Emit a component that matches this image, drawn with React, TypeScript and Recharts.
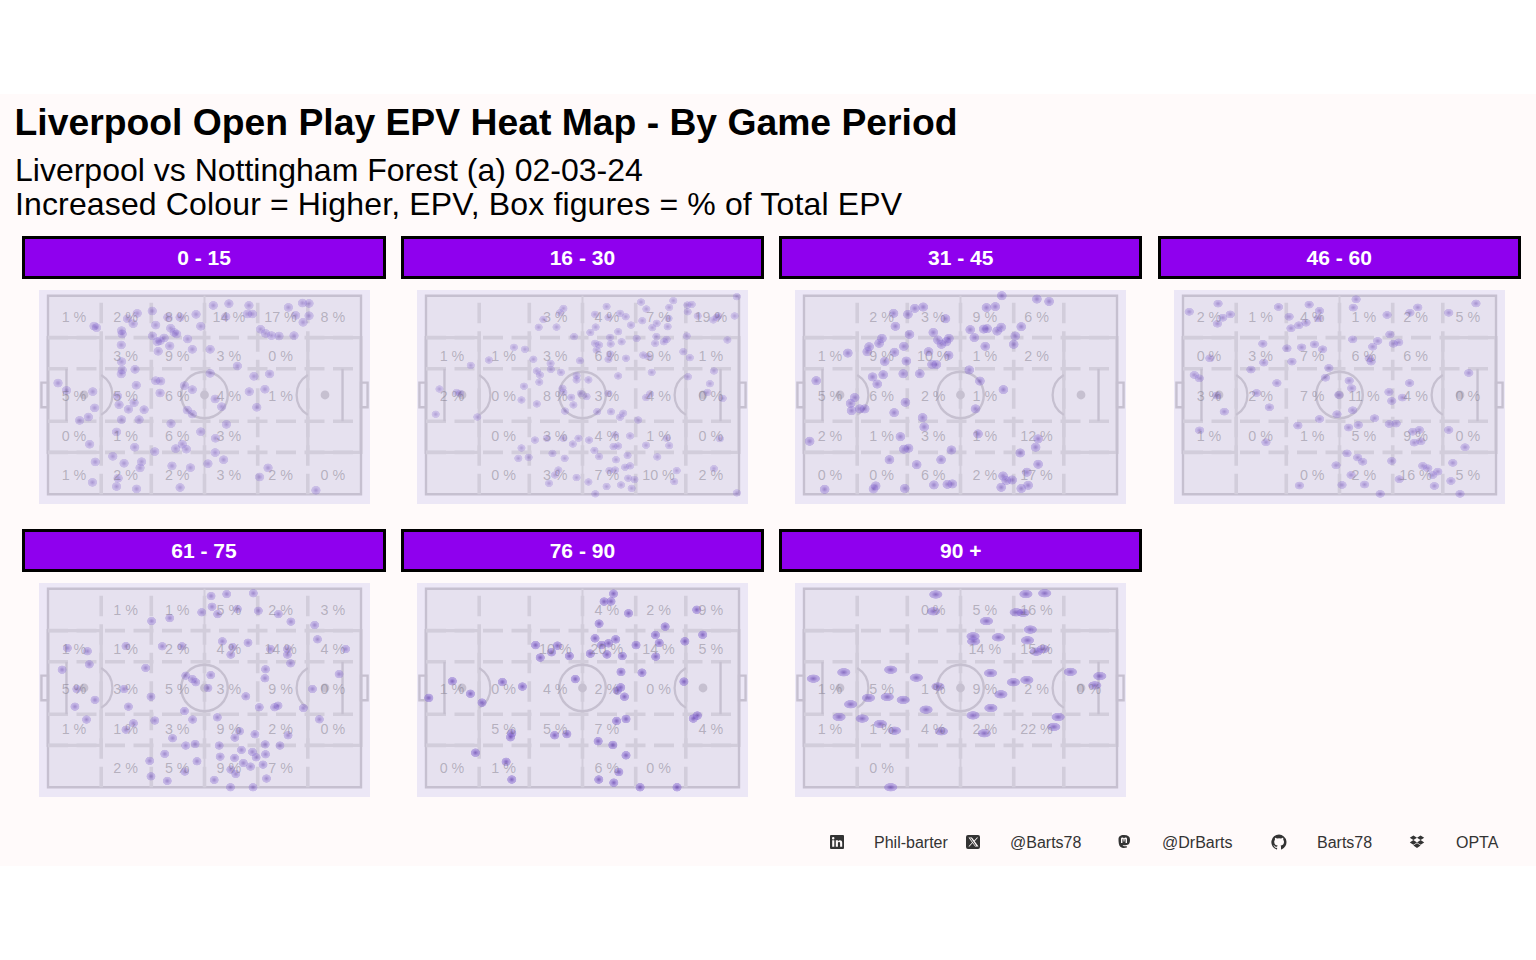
import React from 'react';
import {
  ReferenceArea,
  ReferenceDot,
  ReferenceLine,
  Scatter,
  ScatterChart,
  XAxis,
  YAxis
} from 'recharts';

type Pt = [number, number];

const periods = ['0 - 15', '16 - 30', '31 - 45', '46 - 60', '61 - 75', '76 - 90', '90 +'];

const labelX = [8.3, 24.8, 41.3, 57.8, 74.3, 91];
const labelY = [89.3, 69.6, 49.8, 29.4, 9.7];

// box figures, top row first; null = box left empty
const pct0to15 = [
  [1, 2, 8, 14, 17, 8],
  [null, 3, 9, 3, 0, null],
  [5, 5, 6, 4, 1, null],
  [0, 1, 6, 3, null, null],
  [1, 2, 2, 3, 2, 0]
];
const pct16to30 = [
  [null, null, 3, 4, 7, 19],
  [1, 1, 3, 6, 9, 1],
  [2, 0, 8, 3, 4, 0],
  [null, 0, 3, 4, 1, 0],
  [null, 0, 3, 7, 10, 2]
];
const pct31to45 = [
  [null, 2, 3, 9, 6, null],
  [1, 9, 10, 1, 2, null],
  [5, 6, 2, 1, null, null],
  [2, 1, 3, 1, 12, null],
  [0, 0, 6, 2, 17, null]
];
const pct46to60 = [
  [2, 1, 4, 1, 2, 5],
  [0, 3, 7, 6, 6, null],
  [3, 2, 7, 11, 4, 0],
  [1, 0, 1, 5, 9, 0],
  [null, null, 0, 2, 16, 5]
];
const pct61to75 = [
  [null, 1, 1, 5, 2, 3],
  [1, 1, 2, 4, 14, 4],
  [5, 3, 5, 3, 9, 0],
  [1, 1, 3, 9, 2, 0],
  [null, 2, 5, 9, 7, null]
];
const pct76to90 = [
  [null, null, null, 4, 2, 9],
  [null, null, 10, 20, 14, 5],
  [1, 0, 4, 2, 0, null],
  [null, 5, 5, 7, null, 4],
  [0, 1, null, 6, 0, null]
];
const pct90plus = [
  [null, null, 0, 5, 16, null],
  [null, null, null, 14, 15, null],
  [1, 5, 1, 9, 2, 0],
  [1, 1, 4, 2, 22, null],
  [null, 0, null, null, null, null]
];

const touches0to15: Pt[] = [
  [52.8, 95.1], [57.8, 96], [64.2, 95.1], [76.8, 94.1], [81.3, 96.3], [83.4, 96.1], [83.4, 89.9], [81.5, 86.6],
  [79.1, 90.1], [56.8, 89.4], [63.7, 90.8], [65.3, 90.8], [33.3, 92.3], [28.5, 91.1], [25.4, 88.4], [27.2, 85.9],
  [38.3, 89.1], [42.2, 89.1], [47.3, 90.6], [48.8, 84.6], [34.4, 85.2], [14.7, 84.7], [15.5, 83.9], [23.5, 82.4],
  [23.7, 80.7], [39.2, 83.6], [40.3, 81.5], [41.1, 80.7], [44.6, 78.2], [33.4, 79.7], [34.9, 76.8], [35.8, 77.3],
  [37.1, 78.7], [38.9, 74.7], [46.1, 73], [35.2, 72], [51.8, 73], [23.4, 75.2], [67.9, 83.1], [69.5, 81],
  [71.4, 79.9], [73.8, 79.7], [78.6, 79.9], [60.5, 64.6], [65.8, 59.4], [70.8, 60.6], [23.5, 66.8], [23.7, 62.6],
  [23.4, 60.6], [27.8, 62.9], [3.2, 56], [5.9, 52.3], [14.3, 51.7], [28.2, 54.9], [34.4, 57.2], [36, 57],
  [35.8, 51], [43.6, 54.7], [46.1, 52.7], [51.8, 60.9], [64.3, 51.7], [69.3, 52.9], [53.4, 48], [55.5, 44.1],
  [66.7, 43.8], [22.2, 49.5], [27.5, 46.1], [22.7, 45.1], [25.7, 42.8], [30.7, 42.6], [14.9, 43.5], [12.9, 38.9],
  [10.1, 37.2], [23.5, 37.6], [29.1, 37.6], [44.5, 42.4], [46.1, 40.4], [39.3, 35.6], [57, 35.2], [48.8, 31.5],
  [53.5, 28.2], [21.9, 31.4], [13.3, 25.2], [27.7, 23.7], [34.1, 21.5], [40.8, 23], [42.9, 25.2], [44.2, 22.7],
  [53.4, 21], [20.7, 19.1], [15.1, 16.3], [24.3, 15.6], [29.9, 16.4], [29.4, 13.3], [39.6, 14.3], [45.5, 13.4],
  [51.1, 15.4], [56.1, 17.4], [70.3, 13.3], [67.6, 8.7], [14.2, 6], [22.4, 8.1], [21.9, 3.9], [28.3, 2.7],
  [42.2, 3.4], [85.6, 2]
];

const touches16to30: Pt[] = [
  [99.3, 99.5], [99.3, 0.7], [79, 97.5], [77.7, 94.1], [68.7, 96.8], [70.4, 93.3], [57.7, 94.5], [43.9, 93.6],
  [42.8, 91.4], [37.5, 88.1], [54, 90.6], [58.3, 89.1], [62, 91.1], [63.8, 89.4], [84.9, 95.6], [83.5, 95.3],
  [83.6, 91.9], [86.8, 89.8], [92.9, 89.1], [91.8, 87.8], [93.4, 89.8], [98.6, 89.8], [77.5, 88.6], [77.2, 84.4],
  [73.7, 86.1], [72.3, 83.9], [69.1, 87.4], [65.5, 85.2], [36, 84.1], [41.7, 84.2], [54.2, 84.2], [52.5, 81.5],
  [47.3, 79.4], [61.4, 81.9], [58.8, 79], [62.5, 76.8], [67.3, 78.5], [73.6, 79.4], [76.9, 78], [76, 76.8],
  [73.2, 76], [83.3, 79.7], [96.3, 77.7], [59, 75.7], [54, 76], [54.5, 72.6], [55.3, 75.2], [58.8, 70.6],
  [58.3, 68], [63.9, 68.5], [69.4, 70.1], [71, 69.3], [82.2, 71.8], [84.3, 68.8], [28.1, 74], [31.6, 73],
  [20.1, 67.6], [14.3, 64.9], [34.3, 68], [39.8, 65.9], [39.9, 62.9], [49.2, 67.3], [35.4, 62.1], [36.4, 60.1],
  [43.1, 61.4], [36.2, 56.5], [31.3, 54.4], [30.5, 47.5], [35.4, 45.5], [72.1, 61.4], [61.4, 59.6], [83.7, 59.2],
  [92, 62.1], [90.7, 55.7], [48.1, 59.7], [48.1, 57.6], [51.9, 57.6], [43.6, 53.4], [43.9, 51.3], [46.4, 48.8],
  [47.1, 45], [49.5, 50.8], [51.3, 49.2], [58.3, 50.8], [71.6, 50.5], [70.3, 48.7], [9.8, 51.3], [10.9, 50.8],
  [4.3, 53], [3.1, 40.3], [16.4, 38.9], [44.4, 41.9], [54.7, 41.6], [59.1, 41.6], [63, 40.8], [62, 38.8],
  [67.8, 37.4], [89.9, 51.3], [94.8, 48.3], [34.8, 27.3], [38.6, 28.2], [43.9, 28.2], [46.9, 25.3], [48.7, 28.2],
  [52.1, 27.3], [60.4, 29.9], [65.2, 29.4], [76.9, 28.2], [93.9, 28], [70.3, 24.7], [77.7, 24.5], [59.9, 24],
  [61.4, 24.3], [30.5, 23.3], [29.5, 18.1], [32.8, 18.6], [40.4, 20.6], [44.3, 18.1], [53.8, 22.1], [55.3, 19],
  [64.4, 19.6], [60.7, 17.4], [73.9, 18.8], [65.2, 14.3], [63.6, 13.6], [60.4, 12.2], [58.6, 11.9], [42.3, 12.2],
  [41.2, 9.7], [80.1, 11.9], [92, 12.9], [48.1, 8.4], [39.3, 5.5], [51.9, 6.2], [57.7, 3.9], [62.3, 4.7],
  [64.6, 8.1], [66.6, 7.4], [65.7, 3], [79.3, 6.4], [54.1, 0.2]
];

const touches31to45: Pt[] = [
  [63.2, 100], [74.4, 98.3], [78.3, 97.1], [58.3, 94], [61.1, 94.5], [35.4, 93.6], [33.2, 90.6], [38.1, 94.3],
  [28.6, 91.1], [29.2, 84.6], [45.2, 88.4], [57.4, 83.2], [58.5, 83.4], [63, 84.1], [61.7, 82.2], [69.4, 84.4],
  [53.1, 82.9], [54.4, 78.9], [33.7, 80.5], [24.9, 78.5], [24, 76], [20.8, 74.3], [20.2, 71.8], [41.3, 81.5],
  [42.8, 77.7], [43.9, 75.5], [45.5, 76.8], [46.3, 78.5], [67.5, 79.7], [67, 75.5], [57.9, 74.5], [31.9, 74.5],
  [14, 71.1], [28.9, 71.5], [25.8, 66.9], [32.7, 67.1], [39.8, 71.8], [46.2, 70], [40.9, 65.4], [42.3, 65.3],
  [52.8, 62.6], [25.3, 60.2], [31.7, 60.7], [37, 60.7], [21.9, 59.1], [23.4, 55.5], [56.2, 57], [3.9, 57.2],
  [63.7, 52.7], [16.2, 48.7], [14.9, 45.8], [15.2, 42.1], [17.8, 43], [19.4, 43], [32.4, 46.3], [28.8, 41.1],
  [54.8, 43], [37.9, 38.6], [38.4, 33.9], [1.8, 26.7], [30.8, 29], [55.6, 30.4], [74.8, 27.9], [74, 23.7],
  [31.9, 22.7], [33.4, 23.2], [47.1, 22.3], [69.1, 20.8], [27.3, 17.4], [43.8, 17.4], [36, 14.9], [74.8, 15.1],
  [63.6, 9.2], [64.6, 6.9], [63, 3.5], [66.5, 7.2], [69.4, 2.9], [71.6, 4.5], [71.2, 11.1], [41.5, 4.7],
  [45.8, 5], [47.4, 5.2], [32.2, 2.9], [22.9, 4.2], [22.2, 2.7], [6.6, 2.5]
];

const touches46to60: Pt[] = [
  [11.2, 96], [2, 91.9], [15.1, 90.6], [12.7, 88.9], [11, 85.9], [30.5, 94.3], [40.3, 95.5], [55.3, 98.2],
  [54.4, 94], [43.6, 92.4], [43.2, 88.6], [33.9, 89.4], [34.5, 83.6], [37, 85.1], [39.3, 86.4], [65.2, 90.3],
  [75, 94.1], [72.5, 91.4], [84.9, 91.4], [93.6, 96.1], [66.1, 80.5], [54.2, 78], [62.2, 77.2], [60.6, 74.3],
  [67.2, 75.8], [68.9, 76.5], [25.5, 75.8], [33.2, 73.5], [37.9, 74], [42, 75.5], [44.6, 73], [8.6, 68.5],
  [25.8, 66.3], [34.8, 66.8], [21.7, 62.8], [59.5, 68.5], [60.1, 66.8], [46.6, 63.6], [45.5, 58.7], [3.6, 60.1],
  [5.2, 58.4], [91.3, 61.1], [72.4, 56], [30, 56], [53.1, 57.2], [53.9, 53.4], [23.5, 51], [10.8, 49.7],
  [49.8, 50], [65.8, 51.5], [70.1, 48.7], [66.7, 47], [27.6, 43.8], [13.2, 41.6], [54.2, 42.3], [49.2, 40.3],
  [43.6, 37.9], [61.2, 38.3], [65.9, 35.4], [68.1, 35.6], [56, 34.9], [52.9, 33.6], [36.7, 34.6], [5.3, 32.2],
  [84.9, 32.4], [73.4, 31.5], [75.5, 32.4], [73.9, 26], [76, 26.7], [26.5, 26.2], [90.1, 23.7], [52.4, 20.6],
  [55.8, 18.5], [57.4, 16.4], [66.7, 16.8], [48.9, 14.6], [76.6, 14.3], [78.2, 13.1], [81.4, 11.4], [79.8, 9.7],
  [86.2, 15.8], [85.6, 6.7], [69.1, 7.6], [53.7, 9.7], [80.3, 4.2], [50.8, 4.7], [58, 4.9], [37.2, 4.4],
  [63, 0.2], [88.5, 0.2]
];

const touches61to75: Pt[] = [
  [52.1, 96.3], [57.1, 97.3], [65.6, 97.7], [52.4, 90.9], [54.2, 87.2], [49.1, 88.1], [60.5, 89.8], [67.2, 88.9],
  [73.6, 87.2], [77.6, 83.4], [85.2, 81.7], [38.9, 85.2], [33.1, 83.7], [86.1, 74.5], [6.2, 70.1], [12.6, 68.5],
  [13.2, 61.9], [4.5, 59.2], [24.9, 71.1], [36.5, 71], [42.8, 71], [55.7, 73.5], [59, 70.6], [58.4, 66.8],
  [63.9, 72.8], [71.1, 69.6], [76.5, 69.6], [76.5, 66.8], [77.5, 62.4], [95.1, 69.6], [31.2, 60.1], [69.5, 59.4],
  [69.3, 54.9], [93, 57], [52, 56.5], [44, 56.2], [46.1, 54.5], [47.2, 52.9], [51.1, 50], [9.2, 49.5],
  [24.3, 49.5], [84.5, 49.5], [63.2, 45.8], [15, 44], [32.9, 45.6], [8.6, 40.6], [25.7, 40.6], [67.5, 40.3],
  [72.4, 40.3], [73.5, 41.1], [81.6, 39.9], [43.6, 38.4], [12.3, 34.1], [46.2, 34.1], [54.1, 35.2], [86.7, 34.2],
  [34.1, 33.6], [27.3, 32.2], [24.9, 29], [61.2, 28.2], [66.1, 26.7], [59.7, 25], [76.7, 26.2], [39.8, 24.7],
  [44, 21], [47, 21.8], [54.7, 21], [69.4, 21.6], [74.1, 21], [61.8, 18.8], [65.3, 17.8], [66.5, 15.1],
  [69.5, 16.6], [37.3, 16.8], [55, 15.4], [59.6, 14.8], [62.4, 12.2], [64.7, 10.4], [68.7, 11.4], [32.5, 13.3],
  [47.6, 13.1], [58.4, 8.9], [60, 6.7], [43.7, 7.9], [32.9, 5.5], [38.1, 3.2], [53.1, 3.7], [69.8, 4.4],
  [58.3, 0], [65.5, 0]
];

const touches76to90: Pt[] = [
  [59.9, 97.5], [59.1, 93.6], [56.9, 93.5], [64.7, 87.6], [55.3, 82.4], [86.5, 89.4], [76.4, 80.9], [73.3, 76.7],
  [88.4, 76.8], [82.7, 73.5], [74.5, 72.7], [54, 75], [60.6, 74.5], [58.3, 72.5], [56.1, 71.6], [67.1, 71.6],
  [35, 71.6], [42, 71.3], [40.1, 68], [36.5, 65.3], [45.8, 66.1], [52.5, 67.3], [57.8, 66.9], [62.7, 66.1],
  [73.4, 65.8], [62.3, 58.1], [69, 57.7], [47.7, 54.5], [82.4, 53.2], [8.4, 53.4], [24.4, 53], [30.8, 50.7],
  [14.2, 47.1], [0.9, 45], [17.9, 42.6], [62.2, 50.3], [61.1, 48.7], [63.4, 45.6], [86.7, 36.1], [85.4, 34.6],
  [63.9, 34.4], [60.9, 33.4], [27.4, 27.2], [27, 25.2], [41.1, 26.2], [45, 26.8], [55, 23.2], [59.7, 21.3],
  [63.9, 16.1], [15.8, 17.4], [25.6, 12.8], [61.6, 7.7], [27.4, 3.9], [55.2, 3.9], [60, 2.3], [68.4, 0],
  [80.2, 0]
];

const touches90plus: Pt[] = [
  [42.1, 97.1], [70.9, 97.3], [76.9, 97.7], [41.4, 88.6], [67.8, 88.1], [70, 87.9], [58.3, 83.7], [72.3, 79.4],
  [54, 76], [54.2, 73.5], [62.1, 75.5], [71.4, 74], [74.2, 68.3], [76.4, 69.6], [27.7, 59.2], [12.7, 57.9],
  [59.6, 57.5], [85.1, 58.1], [94.5, 56], [3, 54.7], [35.9, 55.2], [71.2, 54], [66.9, 52.9], [42.8, 50.7],
  [92.9, 51.3], [62.9, 46.8], [20.6, 45], [26.6, 45.5], [31.7, 44], [14.9, 41.8], [39, 39.1], [59.7, 39.9],
  [54, 36.2], [11.2, 35.4], [18.6, 34.6], [81.2, 35.4], [24.4, 31.9], [28.9, 28.5], [43.9, 28.2], [79.8, 30.4],
  [57.6, 27.2], [27.7, 0]
];

const allTouches = [
  touches0to15, touches16to30, touches31to45, touches46to60, touches61to75, touches76to90, touches90plus
];
const allPct = [pct0to15, pct16to30, pct31to45, pct46to60, pct61to75, pct76to90, pct90plus];

const captionItems = ['Phil-barter', '@Barts78', '@DrBarts', 'Barts78', 'OPTA'];

// look of the blobs per panel (rx, ry in px, strength)
const blobStyles = [
  { rx: 5, ry: 4.7, k: 0.85 },
  { rx: 4.4, ry: 4, k: 0.75 },
  { rx: 5.2, ry: 4.9, k: 1.05 },
  { rx: 5, ry: 4.2, k: 0.9 },
  { rx: 4.8, ry: 4.5, k: 1 },
  { rx: 4.9, ry: 4.6, k: 1.4 },
  { rx: 7, ry: 4.5, k: 1.3 }
];

const LINE = '#C6C0D0';
const DASH = '#D2CDDB';
const X_DOMAIN: [number, number] = [-2.875, 102.875];
const Y_DOMAIN: [number, number] = [-4.9, 102.87];
const sans = '"Liberation Sans", Arial, sans-serif';

const PanelChart = ({ index }: { index: number }) => {
  const style = blobStyles[index];
  const touches = allTouches[index].map(([x, y]) => ({ x, y }));
  const labels: { x: number; y: number; v: number }[] = [];
  allPct[index].forEach((row, r) =>
    row.forEach((v, c) => {
      if (v !== null) labels.push({ x: labelX[c], y: labelY[r], v });
    })
  );
  const dashedV = [17, 33, 50, 67, 83];
  const dashedH = [21.1, 36.8, 63.2, 78.9];
  const arc = (side: number) => (p: any) => {
    const dx = 12.2 * side;
    return (
      <path
        d={`M${p.cx + dx},${p.cy - 19.9} A23.3,23.3 0 0 ${side > 0 ? 1 : 0} ${p.cx + dx},${p.cy + 19.9}`}
        fill="none"
        stroke={LINE}
        strokeWidth={2.3}
      />
    );
  };
  return (
    <ScatterChart width={331} height={214} margin={{ top: 0, right: 0, bottom: 0, left: 0 }}>
      <XAxis type="number" dataKey="x" domain={X_DOMAIN} hide />
      <YAxis type="number" dataKey="y" domain={Y_DOMAIN} hide />
      <ReferenceArea x1={0} x2={100} y1={0} y2={100} fill="#E6E1EF" fillOpacity={1} stroke="none" />
      <ReferenceArea x1={0} x2={17} y1={21.1} y2={78.9} fill="none" stroke={DASH} strokeWidth={3.2} />
      <ReferenceArea x1={83} x2={100} y1={21.1} y2={78.9} fill="none" stroke={DASH} strokeWidth={3.2} />
      <ReferenceLine segment={[{ x: 50, y: 0 }, { x: 50, y: 100 }]} stroke={DASH} strokeWidth={2} />
      {dashedV.map((x) => (
        <ReferenceLine
          key={x}
          segment={[{ x, y: 0 }, { x, y: 100 }]}
          stroke={DASH}
          strokeWidth={3.6}
          strokeDasharray="20.5 8"
        />
      ))}
      {dashedH.map((y) => (
        <ReferenceLine
          key={y}
          segment={[{ x: 0, y }, { x: 100, y }]}
          stroke={DASH}
          strokeWidth={3.6}
          strokeDasharray="20 8.5"
        />
      ))}
      <ReferenceArea x1={0} x2={100} y1={0} y2={100} fill="none" stroke={LINE} strokeWidth={2.4} />
      <ReferenceLine segment={[{ x: 5.9, y: 36.8 }, { x: 5.9, y: 63.2 }]} stroke={LINE} strokeWidth={2.4} />
      <ReferenceLine segment={[{ x: 94.1, y: 36.8 }, { x: 94.1, y: 63.2 }]} stroke={LINE} strokeWidth={2.4} />
      <ReferenceArea x1={-2.1} x2={0} y1={43.8} y2={56.2} fill="none" stroke={LINE} strokeWidth={2.4} />
      <ReferenceArea x1={100} x2={102.1} y1={43.8} y2={56.2} fill="none" stroke={LINE} strokeWidth={2.4} />
      <ReferenceDot x={50} y={50} r={23.3} fill="none" stroke={LINE} strokeWidth={2.4} />
      <ReferenceDot x={50} y={50} r={4.4} fill={LINE} stroke="none" />
      <ReferenceDot x={11.5} y={50} r={4.4} fill={LINE} stroke="none" />
      <ReferenceDot x={88.5} y={50} r={4.4} fill={LINE} stroke="none" />
      <ReferenceDot x={13.1} y={50} shape={arc(1)} />
      <ReferenceDot x={86.9} y={50} shape={arc(-1)} />
      <Scatter
        data={touches}
        isAnimationActive={false}
        shape={(p: any) => (
          <ellipse cx={p.cx} cy={p.cy} rx={style.rx} ry={style.ry} fill={`url(#blob${index})`} />
        )}
      />
      <Scatter
        data={labels}
        isAnimationActive={false}
        shape={(p: any) => (
          <text
            x={p.cx}
            y={p.cy}
            dy="0.36em"
            textAnchor="middle"
            fontSize={14.3}
            fontFamily={sans}
            fill="#6F6A78"
            fillOpacity={0.42}
          >
            {`${p.payload.v} %`}
          </text>
        )}
      />
    </ScatterChart>
  );
};

const Icon = ({ left, children }: { left: number; children: React.ReactNode }) => (
  <svg
    width={16}
    height={16}
    viewBox="0 0 16 16"
    style={{ position: 'absolute', left, top: 834 }}
    fill="#333333"
  >
    {children}
  </svg>
);

export default function App() {
  const captionX = [874, 1010, 1162, 1317, 1456];
  return (
    <div style={{ position: 'absolute', left: 0, top: 0, width: 1536, height: 960, background: '#fff', overflow: 'hidden', fontFamily: sans }}>
      <svg width={0} height={0} style={{ position: 'absolute' }}>
        <defs>
          {blobStyles.map((s, i) => (
            <radialGradient id={`blob${i}`} key={i}>
              <stop offset="0%" stopColor="#4A249F" stopOpacity={Math.min(1, 0.46 * s.k)} />
              <stop offset="35%" stopColor="#6A45BE" stopOpacity={0.42 * s.k} />
              <stop offset="60%" stopColor="#8568D0" stopOpacity={0.38 * s.k} />
              <stop offset="88%" stopColor="#8568D0" stopOpacity={0.33 * s.k} />
              <stop offset="100%" stopColor="#8568D0" stopOpacity={0} />
            </radialGradient>
          ))}
        </defs>
      </svg>
      <div style={{ position: 'absolute', left: 0, top: 94, width: 1536, height: 772, background: '#FFFAFA' }} />
      <div style={{ position: 'absolute', left: 14.5, top: 101, fontSize: 37.3, lineHeight: '42px', fontWeight: 700, color: '#000', whiteSpace: 'nowrap' }}>
        Liverpool Open Play EPV Heat Map - By Game Period
      </div>
      <div style={{ position: 'absolute', left: 15, top: 153, fontSize: 32, lineHeight: '34px', color: '#000', whiteSpace: 'nowrap' }}>
        Liverpool vs Nottingham Forest (a) 02-03-24
        <br />
        <span style={{ letterSpacing: 0.14 }}>Increased Colour = Higher, EPV, Box figures = % of Total EPV</span>
      </div>
      {periods.map((label, i) => {
        const col = i % 4;
        const row = i < 4 ? 0 : 1;
        const dx = col * 378.4;
        const dy = row * 293.3;
        return (
          <React.Fragment key={label}>
            <div
              style={{
                position: 'absolute',
                left: 22.3 + dx,
                top: 236 + dy,
                width: 363.4,
                height: 43,
                boxSizing: 'border-box',
                border: '3px solid #000',
                background: '#8F00EE',
                color: '#fff',
                fontWeight: 700,
                fontSize: 21,
                lineHeight: '38px',
                textAlign: 'center'
              }}
            >
              {label}
            </div>
            <div style={{ position: 'absolute', left: 38.6 + dx, top: 290 + dy, width: 331, height: 214, background: '#ECE7F6' }}>
              <PanelChart index={i} />
            </div>
          </React.Fragment>
        );
      })}
      <Icon left={828.5}>
        <path d="M2 1h12a1 1 0 0 1 1 1v12a1 1 0 0 1-1 1H2a1 1 0 0 1-1-1V2a1 1 0 0 1 1-1zm1.2 5.2v6.6h2.1V6.2zM4.2 3a1.2 1.2 0 1 0 0 2.5 1.2 1.2 0 0 0 0-2.5zm2.6 3.2v6.6h2.1V9.4c0-1.9 2.2-2 2.2 0v3.4h2.1V8.8c0-3-3.2-3-4.3-1.4V6.2z" fillRule="evenodd" />
      </Icon>
      <Icon left={964.5}>
        <path d="M3 1h10a2 2 0 0 1 2 2v10a2 2 0 0 1-2 2H3a2 2 0 0 1-2-2V3a2 2 0 0 1 2-2zm0.5 2.5 3.6 4.9-3.7 4.1h1.1l3.1-3.4 2.5 3.4h3.4L9.7 7.3l3.4-3.8H12L9.2 6.6 6.9 3.5zm1.5.8h1l5.3 7.4h-1z" fillRule="evenodd" />
      </Icon>
      <Icon left={1116}>
        <path d="M8 1c4 0 6 1.6 6 4.6 0 3.2-.5 5-3.4 5.5-1.4.2-2.8.2-3.9.1.1.9 1.2 1.3 4.2 1v1.4c-3.6 1-7.4.6-8-3.5C2.600 8 2.500 7 2.500 5.600 2.500 2.600 4 1 8 1zM5 5v4h1.400V5.800c0-1 1.100-1 1.100 0v1.700h1V5.800c0-1 1.100-1 1.100 0V9H11V5c0-1.700-2.300-1.900-3-.5C7.300 3.100 5 3.300 5 5z" fillRule="evenodd" />
      </Icon>
      <Icon left={1271}>
        <path d="M8 .5a7.700 7.700 0 0 0-2.400 15c.4.100.5-.2.5-.4v-1.300c-2.100.5-2.600-1-2.600-1-.3-.9-.8-1.100-.8-1.100-.7-.5 0-.5 0-.5.8 0 1.200.8 1.200.8.700 1.200 1.800.9 2.300.6 0-.5.300-.9.500-1.100-1.700-.2-3.500-.9-3.500-3.800 0-.8.300-1.500.8-2-.1-.2-.3-1 .1-2 0 0 .6-.2 2.100.8a7.200 7.200 0 0 1 3.800 0c1.500-1 2.100-.8 2.100-.8.400 1 .2 1.800.1 2 .5.5.8 1.200.8 2 0 2.900-1.800 3.600-3.500 3.800.3.200.5.700.5 1.400v2.100c0 .2.100.5.500.4A7.700 7.700 0 0 0 8 .5z" />
      </Icon>
      <Icon left={1408.5}>
        <path d="M4.400 1.500 8 3.800 4.400 6.100.8 3.800zM11.600 1.500 15.200 3.800 11.600 6.100 8 3.800zM4.400 6.100 8 8.400 4.400 10.700.8 8.400zM11.600 6.100l3.600 2.300-3.600 2.300L8 8.400zM4.400 11.600 8 9.300l3.600 2.300L8 13.900z" />
      </Icon>
      {captionItems.map((t, i) => (
        <div key={t} style={{ position: 'absolute', left: captionX[i], top: 834, fontSize: 16, lineHeight: '18px', color: '#333', whiteSpace: 'nowrap' }}>
          {t}
        </div>
      ))}
    </div>
  );
}
